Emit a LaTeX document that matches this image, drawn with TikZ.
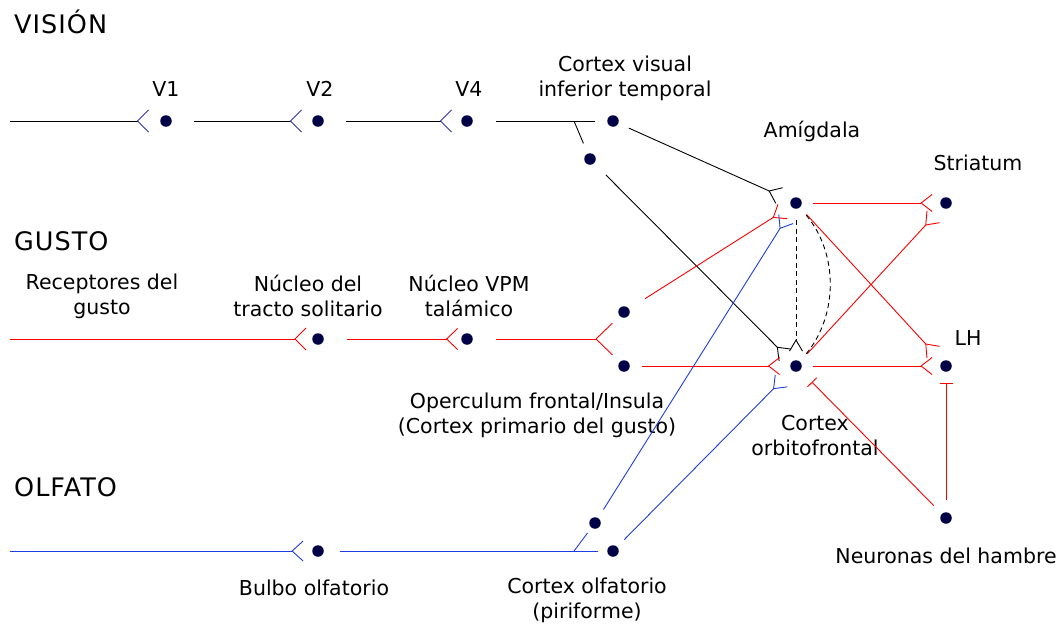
\documentclass[tikz,border=0pt]{standalone}
\usepackage{fontspec}
\setmainfont{DejaVu Sans}
\usetikzlibrary{arrows.meta,calc}
\definecolor{dotc}{RGB}{0,0,70}
\definecolor{redl}{RGB}{255,0,0}
\definecolor{bluel}{RGB}{30,60,225}
\definecolor{chevb}{RGB}{50,50,170}
\begin{document}
\begin{tikzpicture}[x=1pt,y=-1pt,
  dot/.style={circle,fill=dotc,inner sep=0pt,minimum size=11.5pt},
  lbl/.style={align=center,font=\fontsize{20.5}{25}\selectfont,inner sep=0pt},
  ttl/.style={anchor=base west,font=\fontsize{25.5}{28}\selectfont\addfontfeatures{LetterSpace=4},inner sep=0pt},
  wire/.style={line width=0.9pt},
  syn/.style={wire,-{Straight Barb[reversed,length=11pt,width=#1]}},
  syn/.default=17pt,
  synb/.style={wire,-{Straight Barb[reversed,length=11pt,width=22pt,color=chevb]}},
  inh/.style={wire,-{Bar[width=13pt]}},
  dsh/.style={dash pattern=on 5pt off 3.5pt}]
\useasboundingbox (0,0) rectangle (1062,627);

% section titles
\node[ttl] (tv) at (14,33) {VISIÓN};
\node[ttl] (tg) at (14,250) {GUSTO};
\node[ttl] (to) at (14,496) {OLFATO};

% neurons
\node[dot] (v1) at (166,121) {};
\node[dot] (v2) at (318,121) {};
\node[dot] (v4) at (467,121) {};
\node[dot] (cvit) at (613,121) {};
\node[dot] (cvit2) at (590,159) {};
\node[dot] (amy) at (796,203) {};
\node[dot] (str) at (946,203) {};
\node[dot] (nts) at (318,339) {};
\node[dot] (vpm) at (467,339) {};
\node[dot] (of1) at (624,312) {};
\node[dot] (of2) at (624,366) {};
\node[dot] (ofc) at (796,366) {};
\node[dot] (lh) at (946,366) {};
\node[dot] (hun) at (946,518) {};
\node[dot] (bulb) at (318,551) {};
\node[dot] (co1) at (595,523) {};
\node[dot] (co2) at (613,551) {};

% free ends and branch points
\coordinate (vin) at (10,121);
\coordinate (gin) at (10,339);
\coordinate (oin) at (10,551);
\coordinate (vbr) at (574,121);
\coordinate (gfork) at (596,339);
\coordinate (obr) at (574,551);

% labels
\node[lbl] (lv1) at (166,89) {V1};
\node[lbl] (lv2) at (320,89) {V2};
\node[lbl] (lv4) at (469,89) {V4};
\node[lbl] (lcvit) at (625,78) {Cortex visual\\inferior temporal};
\node[lbl] (lamy) at (812,131) {Amígdala};
\node[lbl] (lstr) at (978,163) {Striatum};
\node[lbl] (lrec) at (102,296) {Receptores del\\gusto};
\node[lbl] (lnts) at (308,296) {Núcleo del\\tracto solitario};
\node[lbl] (lvpm) at (469,296) {Núcleo VPM\\talámico};
\node[lbl] (llh) at (968,338) {LH};
\node[lbl] (lop) at (537,415) {Operculum frontal/Insula\\(Cortex primario del gusto)};
\node[lbl] (lofc) at (815,436) {Cortex\\orbitofrontal};
\node[lbl] (lhun) at (946,556) {Neuronas del hambre};
\node[lbl] (lbulb) at (314,588) {Bulbo olfatorio};
\node[lbl] (lco) at (587,600) {Cortex olfatorio\\(piriforme)};

% visual pathway
\draw[synb, shorten >=11pt] (vin) -- (v1);
\draw[synb, shorten <=22pt, shorten >=10pt] (v1) -- (v2);
\draw[synb, shorten <=22pt, shorten >=9pt] (v2) -- (v4);
\draw[wire, shorten <=23.5pt, shorten >=12.5pt] (v4) -- (cvit);
\draw[wire, shorten >=11pt] (vbr) -- (cvit2);
\draw[syn, shorten <=11.5pt, shorten >=12pt] (cvit) -- (amy);
\draw[syn, shorten <=16.5pt, shorten >=9pt] (cvit2) -- (ofc);

% taste pathway
\begin{scope}[redl]
\draw[syn=22pt, shorten >=5.5pt] (gin) -- (nts);
\draw[syn=21pt, shorten <=23.5pt, shorten >=3pt] (nts) -- (vpm);
\draw[wire, shorten <=23.5pt] (vpm) -- (gfork);
\draw[wire, shorten >=10pt] (gfork) -- (of1);
\draw[wire, shorten >=10pt] (gfork) -- (of2);
\draw[syn, shorten <=19pt, shorten >=9.5pt] (of1) -- (amy);
\draw[syn, shorten <=12.5pt, shorten >=10pt] (of2) -- (ofc);
\draw[syn, shorten <=11.5pt, shorten >=7.5pt] (amy) -- (str);
\draw[syn, shorten <=10.5pt, shorten >=12.5pt] (ofc) -- (str);
\draw[syn, shorten <=9.5pt, shorten >=12.5pt] (amy) -- (lh);
\draw[syn, shorten <=11.5pt, shorten >=7.5pt] (ofc) -- (lh);
\draw[inh, shorten <=12.5pt, shorten >=11.5pt] (hun) -- (lh);
\draw[inh, shorten <=11.5pt, shorten >=16.5pt] (hun) -- (ofc);
\end{scope}

% amygdala - orbitofrontal links
\draw[syn=13pt, dsh, shorten <=11.5pt, shorten >=8.5pt] (amy) -- (ofc);
\draw[wire, dsh, shorten <=10pt, shorten >=9pt] (amy) to[bend left=40] (ofc);

% olfactory pathway
\begin{scope}[bluel]
\draw[syn=20pt, shorten >=8.5pt] (oin) -- (bulb);
\draw[wire, shorten <=16.5pt, shorten >=9.5pt] (bulb) -- (co2);
\draw[wire, shorten >=6.5pt] (obr) -- (co1);
\draw[syn, shorten <=10pt, shorten >=12.5pt] (co1) -- (amy);
\draw[syn, shorten <=10pt, shorten >=14.5pt] (co2) -- (ofc);
\end{scope}
\end{tikzpicture}
\end{document}
